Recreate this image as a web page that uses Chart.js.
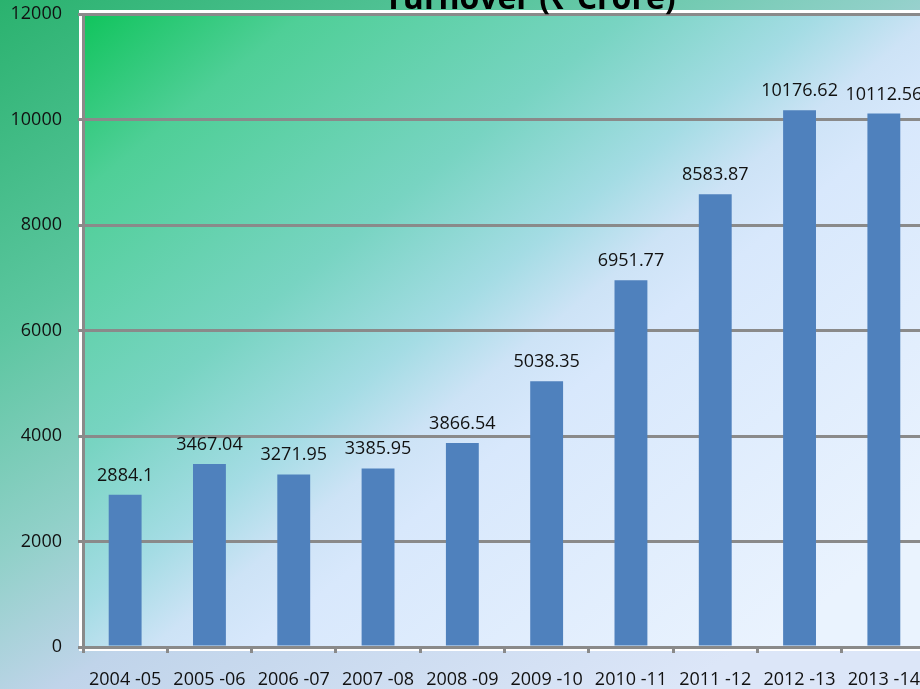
<!DOCTYPE html>
<html>
<head>
<meta charset="utf-8">
<script src="https://cdn.jsdelivr.net/npm/chart.js@4.4.1/dist/chart.umd.min.js"></script>
<style>
  html,body{margin:0;padding:0;overflow:hidden;width:920px;height:689px;}
  canvas{display:block;}
</style>
</head>
<body>
<canvas id="chart" width="935" height="689"></canvas>
<script>
// Daten
const years = ["2004 -05","2005 -06","2006 -07","2007 -08","2008 -09","2009 -10","2010 -11","2011 -12","2012 -13","2013 -14"];
const turnover = [2884.1,3467.04,3271.95,3385.95,3866.54,5038.35,6951.77,8583.87,10176.62,10112.56];
const valueLabels = ["2884.1","3467.04","3271.95","3385.95","3866.54","5038.35","6951.77","8583.87","10176.62","10112.56"];
const chartTitle = "Turnover (\u20B9 Crore)";

const FONT = "'Open Sans','Noto Sans','DejaVu Sans',sans-serif";
const GRID = "#8a8a8a";

// Hintergrund: ganze Fläche + Plotbereich
const bgPlugin = {
  id:"bg",
  beforeDraw(c){
    const ctx = c.ctx, a = c.chartArea;
    ctx.save();
    let g = ctx.createLinearGradient(0,0,500,800);
    g.addColorStop(0,"#2ab26e");
    g.addColorStop(0.3,"#5cc6a0");
    g.addColorStop(0.5,"#90d0c8");
    g.addColorStop(0.65,"#c0d4ea");
    g.addColorStop(1,"#dce6f8");
    ctx.fillStyle = g;
    ctx.fillRect(0,0,c.width,c.height);
    // weisse Kante
    ctx.fillStyle = "#ffffff";
    ctx.fillRect(a.left-4,a.top-4,a.right-a.left+8,a.bottom-a.top+8);
    g = ctx.createLinearGradient(a.left,a.top,a.left+580,a.top+720);
    g.addColorStop(0,"#10c45c");
    g.addColorStop(0.15,"#4fcf97");
    g.addColorStop(0.37,"#78d4c2");
    g.addColorStop(0.5,"#a4dce4");
    g.addColorStop(0.58,"#cde3f6");
    g.addColorStop(0.65,"#d8e8fc");
    g.addColorStop(1,"#eaf3fe");
    ctx.fillStyle = g;
    ctx.fillRect(a.left,a.top,a.right-a.left,a.bottom-a.top);
    ctx.restore();
  }
};

// Werte über den Balken + Titel
const labelPlugin = {
  id:"labels",
  afterDatasetsDraw(c){
    const ctx = c.ctx;
    ctx.save();
    ctx.fillStyle = "#111";
    ctx.font = "18px " + FONT;
    ctx.textAlign = "center";
    ctx.textBaseline = "alphabetic";
    c.getDatasetMeta(0).data.forEach((bar,i)=>{
      ctx.fillText(valueLabels[i], bar.x, bar.y-14);
    });
    ctx.font = "bold 32px " + FONT;
    ctx.fillStyle = "#000";
    ctx.fillText(chartTitle, 530, 9);
    ctx.restore();
  }
};

new Chart(document.getElementById("chart"),{
  type:"bar",
  data:{
    labels:years,
    datasets:[{
      data:turnover,
      backgroundColor:"#4f81bd",
      categoryPercentage:1,
      barPercentage:0.39
    }]
  },
  options:{
    responsive:false,
    animation:false,
    layout:{padding:{top:14,right:9,left:0,bottom:0}},
    plugins:{legend:{display:false},tooltip:{enabled:false}},
    scales:{
      x:{
        grid:{drawOnChartArea:false,color:GRID,lineWidth:3,tickLength:6,offset:true},
        border:{color:GRID,width:3},
        ticks:{color:"#111",font:{family:FONT,size:18},padding:16,maxRotation:0,autoSkip:false},
        afterFit(s){s.height = 42; s.paddingLeft = 0; s.paddingRight = 0;}
      },
      y:{
        min:0,max:12000,
        grid:{color:GRID,lineWidth:3,tickLength:5},
        border:{color:GRID,width:3},
        ticks:{stepSize:2000,color:"#111",font:{family:FONT,size:18},padding:16,callback:v=>String(v)},
        afterFit(s){s.width = 83; s.paddingTop = 0; s.paddingBottom = 0;}
      }
    }
  },
  plugins:[bgPlugin,labelPlugin]
});
</script>
</body>
</html>
